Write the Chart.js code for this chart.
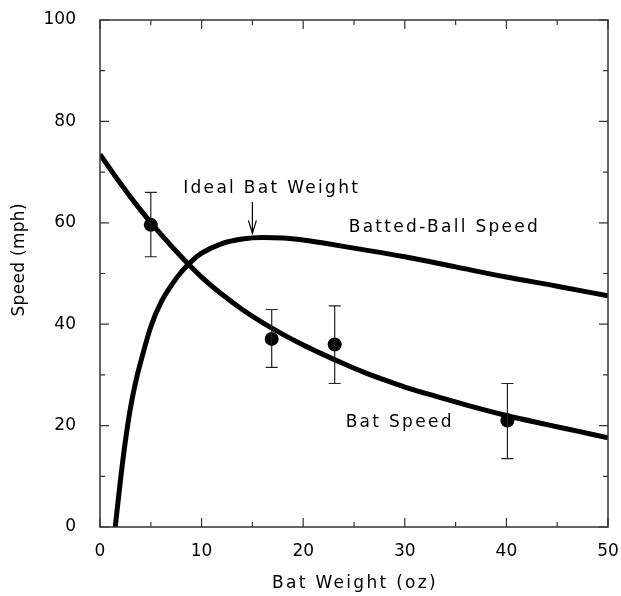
<!DOCTYPE html>
<html><head><meta charset="utf-8">
<script src="https://cdn.jsdelivr.net/npm/chart.js@4.4.1/dist/chart.umd.min.js"></script>
<style>html,body{margin:0;padding:0;background:#fff;}#wrap{width:621px;height:596px;}</style>
</head><body><div id="wrap"><canvas id="c" width="621" height="596"></canvas></div>
<script>
// Fitted curve: bat speed (mph) vs bat weight (oz)
const batCurveWeight = [0, 2, 4, 6, 8, 10, 12, 14, 16, 18, 20, 22, 24, 26, 28, 30, 33, 36, 40, 44, 47, 50];
const batCurveSpeed  = [73.5, 67.8, 62.5, 57.7, 53.3, 49.3, 45.9, 42.9, 40.3, 38.0, 35.9, 34.0, 32.2, 30.5, 29.0, 27.6, 25.8, 24.1, 22.0, 20.2, 18.9, 17.6];
// Fitted curve: batted-ball speed (mph) vs bat weight (oz)
const ballCurveWeight = [1.5, 2, 2.5, 3, 3.5, 4, 5, 6, 7, 8, 9, 10, 12, 14, 16, 18, 20, 22, 25, 30, 35, 40, 45, 50];
const ballCurveSpeed  = [0, 9, 17, 23.5, 28.5, 32.5, 39.5, 44.3, 47.6, 50.3, 52.4, 54.0, 55.9, 56.8, 57.1, 57.0, 56.6, 56.0, 55.0, 53.3, 51.3, 49.3, 47.5, 45.6];
// Measured bat speeds with error bars
const measWeight = [5, 16.9, 23.1, 40.1];
const measSpeed  = [59.6, 37.1, 36.0, 21.0];
const errLow     = [53.3, 31.5, 28.3, 13.5];
const errHigh    = [66.0, 42.9, 43.6, 28.3];
// Axis ticks
const xTickValues = [0, 10, 20, 30, 40, 50];
const yTickValues = [0, 20, 40, 60, 80, 100];
const idealWeight = 15;
const xTitle = 'Bat Weight (oz)';
const yTitle = 'Speed (mph)';

const toXY = (xs, ys) => xs.map((x, i) => ({x: x, y: ys[i]}));

Chart.defaults.font.family = "'DejaVu Sans', sans-serif";
Chart.defaults.font.size = 17;
Chart.defaults.color = '#000';

const framePlugin = {
  id: 'frame',
  afterDatasetsDraw(chart) {
    const ctx = chart.ctx, a = chart.chartArea;
    const xs = chart.scales.x, ys = chart.scales.y;
    ctx.save();
    // error bars
    ctx.strokeStyle = '#222';
    ctx.lineWidth = 1.2;
    measWeight.forEach((w, i) => {
      const px = xs.getPixelForValue(w);
      const p1 = ys.getPixelForValue(errLow[i]);
      const p2 = ys.getPixelForValue(errHigh[i]);
      ctx.beginPath();
      ctx.moveTo(px, p1); ctx.lineTo(px, p2);
      ctx.moveTo(px - 6, p1); ctx.lineTo(px + 6, p1);
      ctx.moveTo(px - 6, p2); ctx.lineTo(px + 6, p2);
      ctx.stroke();
    });
    // frame
    ctx.strokeStyle = '#333';
    ctx.lineWidth = 1.5;
    ctx.strokeRect(a.left, a.top, a.right - a.left, a.bottom - a.top);
    // ticks inward on all sides
    ctx.lineWidth = 1.2;
    ctx.beginPath();
    for (let v = xs.min; v <= xs.max + 1e-9; v += 5) {
      const px = xs.getPixelForValue(v);
      const L = (Math.round(v) % 10 === 0) ? 9 : 5;
      ctx.moveTo(px, a.bottom); ctx.lineTo(px, a.bottom - L);
      ctx.moveTo(px, a.top); ctx.lineTo(px, a.top + L);
    }
    for (let v = ys.min; v <= ys.max + 1e-9; v += 10) {
      const py = ys.getPixelForValue(v);
      const L = (Math.round(v) % 20 === 0) ? 9 : 5;
      ctx.moveTo(a.left, py); ctx.lineTo(a.left + L, py);
      ctx.moveTo(a.right, py); ctx.lineTo(a.right - L, py);
    }
    ctx.stroke();
    // arrow to ideal bat weight
    const ax = xs.getPixelForValue(idealWeight);
    const aTop = ys.getPixelForValue(64.1);
    const aTip = ys.getPixelForValue(57.9);
    ctx.lineWidth = 1.2;
    ctx.strokeStyle = '#000';
    ctx.beginPath();
    ctx.moveTo(ax, aTop); ctx.lineTo(ax, aTip);
    ctx.moveTo(ax - 4, aTip - 13); ctx.lineTo(ax, aTip); ctx.lineTo(ax + 4, aTip - 13);
    ctx.stroke();
    // annotations
    ctx.letterSpacing = '2.3px';
    ctx.fillStyle = '#000';
    ctx.font = "17px 'DejaVu Sans', sans-serif";
    ctx.textAlign = 'center';
    ctx.textBaseline = 'middle';
    ctx.fillText('Ideal Bat Weight', xs.getPixelForValue(16.9), ys.getPixelForValue(66.8));
    ctx.fillText('Batted-Ball Speed', xs.getPixelForValue(33.9), ys.getPixelForValue(59.0));
    ctx.fillText('Bat Speed', xs.getPixelForValue(29.5), ys.getPixelForValue(20.5));
    // x axis title
    ctx.fillText(xTitle, (a.left + a.right) / 2 + 1, a.bottom + 57);
    // y axis title
    ctx.letterSpacing = '0.3px';
    ctx.font = "17px 'DejaVu Sans', sans-serif";
    ctx.translate(20, ys.getPixelForValue(52.7));
    ctx.rotate(-Math.PI / 2);
    ctx.fillText(yTitle, 0, 0);
    ctx.restore();
  }
};

new Chart(document.getElementById('c'), {
  type: 'scatter',
  data: {
    datasets: [
      {
        label: 'Bat Speed (fit)',
        data: toXY(batCurveWeight, batCurveSpeed),
        showLine: true, borderColor: '#000', borderWidth: 5,
        pointRadius: 0, cubicInterpolationMode: 'monotone', fill: false
      },
      {
        label: 'Batted-Ball Speed',
        data: toXY(ballCurveWeight, ballCurveSpeed),
        showLine: true, borderColor: '#000', borderWidth: 5,
        pointRadius: 0, cubicInterpolationMode: 'monotone', fill: false
      },
      {
        label: 'Measured Bat Speed',
        data: toXY(measWeight, measSpeed),
        showLine: false, pointRadius: 7, pointBackgroundColor: '#000',
        pointBorderColor: '#000', pointBorderWidth: 0
      }
    ]
  },
  options: {
    responsive: false,
    animation: false,
    devicePixelRatio: 1,
    layout: { padding: { left: 0, top: 20, right: 13, bottom: 0 } },
    plugins: { legend: { display: false }, tooltip: { enabled: false } },
    scales: {
      x: {
        type: 'linear', min: 0, max: 50,
        afterFit(s) { s.height = 69; s.paddingLeft = 0; s.paddingRight = 0; },
        afterBuildTicks(s) { s.ticks = xTickValues.map(v => ({value: v})); },
        grid: { display: false }, border: { display: false },
        ticks: { padding: 6, maxRotation: 0, font: { size: 17 } },
        title: { display: false, text: xTitle }
      },
      y: {
        type: 'linear', min: 0, max: 100,
        afterFit(s) { s.width = 100; s.paddingTop = 0; s.paddingBottom = 0; },
        afterBuildTicks(s) { s.ticks = yTickValues.map(v => ({value: v})); },
        grid: { display: false }, border: { display: false },
        ticks: { padding: 16, font: { size: 17 } },
        title: { display: false, text: yTitle }
      }
    }
  },
  plugins: [framePlugin]
});
</script></body></html>
